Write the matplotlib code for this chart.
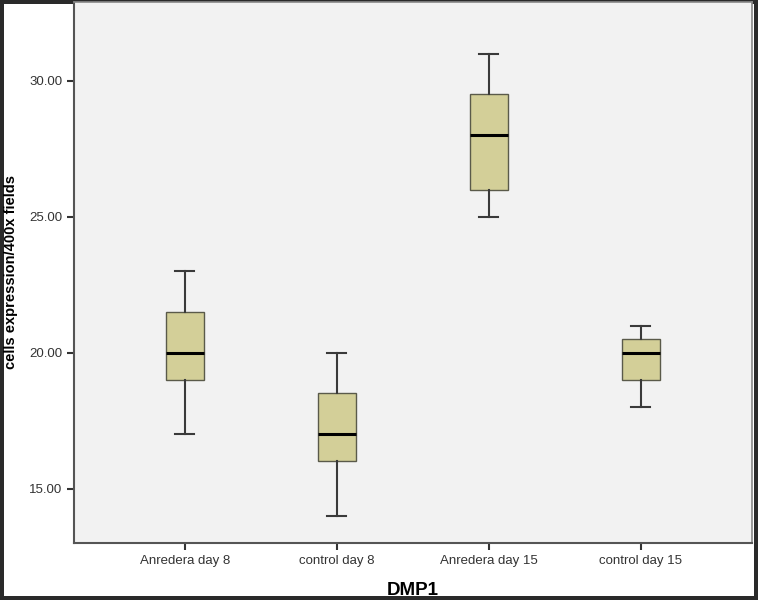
import matplotlib.pyplot as plt

plt.rcParams["font.family"] = ["Liberation Sans", "DejaVu Sans"]

GROUPS = ["Anredera day 8", "control day 8", "Anredera day 15", "control day 15"]
WHISKER_LOW = [17.0, 14.0, 25.0, 18.0]
Q1 = [19.0, 16.0, 26.0, 19.0]
MEDIAN = [20.0, 17.0, 28.0, 20.0]
Q3 = [21.5, 18.5, 29.5, 20.5]
WHISKER_HIGH = [23.0, 20.0, 31.0, 21.0]
Y_TICKS = [15.0, 20.0, 25.0, 30.0]

BOX_FILL = "#d3cf98"
LINE_COLOR = "#3a3a3a"


def build_stats():
    stats = []
    for name, lo, q1, med, q3, hi in zip(GROUPS, WHISKER_LOW, Q1, MEDIAN, Q3, WHISKER_HIGH):
        stats.append({
            "label": name,
            "whislo": lo,
            "q1": q1,
            "med": med,
            "q3": q3,
            "whishi": hi,
            "fliers": [],
        })
    return stats


fig = plt.figure(figsize=(7.58, 6.0), dpi=100, facecolor="white",
                 edgecolor="#2a2a2a", linewidth=4.5)
ax = fig.add_axes([0.0976, 0.095, 0.8944, 0.9017])
ax.set_facecolor("#f2f2f2")

positions = list(range(1, len(GROUPS) + 1))
ax.bxp(
    build_stats(),
    positions=positions,
    widths=0.255,
    patch_artist=True,
    showfliers=False,
    boxprops=dict(facecolor=BOX_FILL, edgecolor="#5a5a4a", linewidth=1.0),
    medianprops=dict(color="black", linewidth=2.2),
    whiskerprops=dict(color=LINE_COLOR, linewidth=1.5),
    capprops=dict(color=LINE_COLOR, linewidth=1.5),
    capwidths=0.125,
)

ax.set_xlim(0.27, 4.73)
ax.set_ylim(13.0, 32.9)
ax.set_yticks(Y_TICKS)
ax.set_yticklabels([f"{v:.2f}" for v in Y_TICKS])
ax.set_xticks(positions)
ax.set_xticklabels(GROUPS)

ax.tick_params(axis="both", labelsize=9.5, labelcolor="#333333", color="#333333",
               direction="out", length=5, width=1.5)
for side in ["left", "bottom"]:
    ax.spines[side].set_color("#555555")
    ax.spines[side].set_linewidth(1.5)
for side in ["top", "right"]:
    ax.spines[side].set_color("#888888")
    ax.spines[side].set_linewidth(1.2)

ax.set_ylabel("cells expression/400x fields", fontsize=10.5, fontweight="bold", labelpad=8)
ax.set_xlabel("DMP1", fontsize=13.5, fontweight="bold", labelpad=11)

fig.savefig("out.png", dpi=100, facecolor=fig.get_facecolor(),
            edgecolor=fig.get_edgecolor())
